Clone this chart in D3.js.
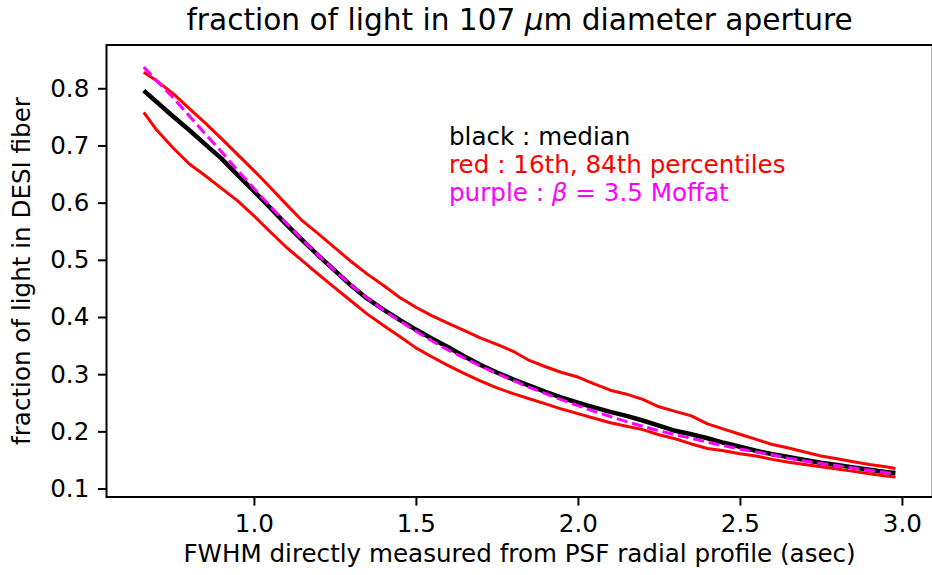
<!DOCTYPE html>
<html>
<head>
<meta charset="utf-8">
<script src="https://cdn.jsdelivr.net/npm/d3@7"></script>
<style>
  body { margin: 0; background: #fff; }
  svg { display: block; }
  text { font-family: "DejaVu Sans", sans-serif; }
</style>
</head>
<body>
<div id="chart"></div>
<script>
// ---- data ----
const fwhm = [0.66,0.70,0.75,0.80,0.85,0.90,0.95,1.00,1.05,1.10,1.15,1.20,1.25,1.30,1.35,1.40,1.45,1.50,1.55,1.60,1.65,1.70,1.75,1.80,1.85,1.90,1.95,2.00,2.05,2.10,2.15,2.20,2.25,2.30,2.35,2.40,2.45,2.50,2.55,2.60,2.65,2.70,2.75,2.80,2.85,2.90,2.95,2.98];
const median = [0.796,0.776,0.751,0.727,0.702,0.677,0.648,0.620,0.591,0.562,0.534,0.507,0.481,0.455,0.432,0.413,0.395,0.378,0.362,0.347,0.331,0.316,0.303,0.291,0.280,0.269,0.259,0.250,0.242,0.234,0.227,0.219,0.210,0.201,0.195,0.188,0.180,0.173,0.166,0.160,0.155,0.150,0.145,0.141,0.137,0.133,0.129,0.127];
const p84 = [0.828,0.813,0.791,0.765,0.739,0.712,0.684,0.656,0.627,0.597,0.568,0.545,0.521,0.497,0.475,0.455,0.434,0.417,0.402,0.389,0.376,0.363,0.352,0.340,0.324,0.313,0.303,0.295,0.283,0.272,0.265,0.256,0.243,0.235,0.227,0.213,0.204,0.195,0.186,0.177,0.171,0.164,0.157,0.152,0.147,0.142,0.138,0.135];
const p16 = [0.758,0.727,0.696,0.668,0.647,0.625,0.603,0.577,0.549,0.522,0.498,0.474,0.451,0.428,0.405,0.385,0.366,0.346,0.330,0.315,0.301,0.288,0.276,0.266,0.257,0.248,0.239,0.231,0.223,0.215,0.209,0.203,0.194,0.187,0.178,0.170,0.166,0.161,0.157,0.151,0.146,0.142,0.138,0.134,0.130,0.126,0.122,0.120];
const moffat = [0.837,0.813,0.784,0.752,0.720,0.689,0.656,0.625,0.594,0.564,0.535,0.507,0.481,0.456,0.433,0.412,0.393,0.375,0.358,0.342,0.328,0.314,0.301,0.289,0.277,0.266,0.255,0.245,0.235,0.226,0.217,0.209,0.201,0.194,0.188,0.181,0.175,0.169,0.164,0.159,0.153,0.148,0.144,0.140,0.136,0.132,0.128,0.126];
const xTicks = [1.0, 1.5, 2.0, 2.5, 3.0];
const yTicks = [0.1, 0.2, 0.3, 0.4, 0.5, 0.6, 0.7, 0.8];
const legendLines = [
  {parts: [{t: "black : median"}], color: "#000000"},
  {parts: [{t: "red : 16th, 84th percentiles"}], color: "#ff0000"},
  {parts: [{t: "purple : "}, {t: "β", it: true}, {t: " = 3.5 Moffat"}], color: "#ff00ff"}
];

// ---- layout ----
const W = 932, H = 575;
const L = 106.5, R = 932.7, T = 45, B = 497;
const fs = 24.6;
const tick = 8.6;

const svg = d3.select("#chart").append("svg").attr("width", W).attr("height", H);

const x = d3.scaleLinear().domain([0.545, 3.095]).range([L, R]);
const y = d3.scaleLinear().domain([0.0852, 0.8757]).range([B, T]);

const line = vals => d3.line().x((d, i) => x(fwhm[i])).y(d => y(d))(vals);

const g = svg.append("g");
g.append("path").attr("d", line(p84)).attr("fill", "none").attr("stroke", "#ff0000").attr("stroke-width", 3).attr("stroke-linejoin", "round");
g.append("path").attr("d", line(p16)).attr("fill", "none").attr("stroke", "#ff0000").attr("stroke-width", 3).attr("stroke-linejoin", "round");
g.append("path").attr("d", line(median)).attr("fill", "none").attr("stroke", "#000000").attr("stroke-width", 4.5).attr("stroke-linejoin", "round");
g.append("path").attr("d", line(moffat)).attr("fill", "none").attr("stroke", "#ff00ff").attr("stroke-width", 3).attr("stroke-dasharray", "11,4.8");

// axes
const xAxis = d3.axisBottom(x).tickValues(xTicks).tickFormat(d3.format(".1f")).tickSizeOuter(0).tickSize(tick).tickPadding(tick);
const yAxis = d3.axisLeft(y).tickValues(yTicks).tickFormat(d3.format(".1f")).tickSizeOuter(0).tickSize(tick).tickPadding(tick);

const gx = svg.append("g").attr("transform", `translate(0,${B})`).call(xAxis);
const gy = svg.append("g").attr("transform", `translate(${L},0)`).call(yAxis);
[gx, gy].forEach(a => {
  a.select(".domain").remove();
  a.selectAll(".tick line").attr("stroke", "#000").attr("stroke-width", 2);
  a.selectAll(".tick text").attr("font-family", "DejaVu Sans").attr("font-size", fs).attr("fill", "#000");
});
gx.selectAll(".tick text").attr("dy", "0.74em");

// frame
svg.append("rect").attr("x", L).attr("y", T).attr("width", R - L).attr("height", B - T)
  .attr("fill", "none").attr("stroke", "#000").attr("stroke-width", 2);

// title
const title = svg.append("text").attr("x", (L + R) / 2).attr("y", 30).attr("text-anchor", "middle")
  .attr("font-size", 29.6).attr("fill", "#000");
title.append("tspan").text("fraction of light in 107 ");
title.append("tspan").attr("font-style", "italic").text("μ");
title.append("tspan").text("m diameter aperture");

// axis labels
svg.append("text").attr("x", (L + R) / 2).attr("y", 562).attr("text-anchor", "middle")
  .attr("font-size", fs).attr("fill", "#000")
  .text("FWHM directly measured from PSF radial profile (asec)");
svg.append("text").attr("transform", `translate(30,${(T + B) / 2}) rotate(-90)`).attr("text-anchor", "middle")
  .attr("font-size", fs).attr("fill", "#000")
  .text("fraction of light in DESI fiber");

// legend text
legendLines.forEach((ln, i) => {
  const t = svg.append("text").attr("x", 449).attr("y", 145 + i * 28).attr("font-size", fs).attr("fill", ln.color);
  ln.parts.forEach(p => {
    const s = t.append("tspan").text(p.t);
    if (p.it) s.attr("font-style", "italic");
  });
});
</script>
</body>
</html>
